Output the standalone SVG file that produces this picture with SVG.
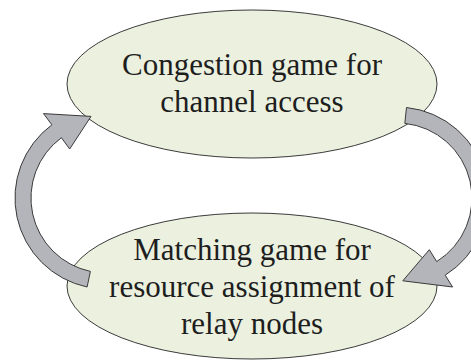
<svg xmlns="http://www.w3.org/2000/svg" width="471" height="360" viewBox="0 0 471 360">
<style>
.node{fill:#EBF1DE;stroke:#3a3a3a;stroke-width:1}
.lbl{font-family:"Liberation Serif","Times New Roman",serif;font-size:31px;fill:#1e1e1e;text-anchor:middle}
.arr{fill:#B4B5BA;stroke:#3a3a3a;stroke-width:1;stroke-linejoin:miter}
</style>
<rect width="471" height="360" fill="#ffffff"/>
<g id="node-congestion">
<ellipse class="node" cx="252" cy="84" rx="185" ry="74"/>
<text class="lbl" x="252" y="75">Congestion game for</text>
<text class="lbl" x="252" y="112">channel access</text>
</g>
<g id="node-matching">
<ellipse class="node" cx="252" cy="286" rx="185" ry="73"/>
<text class="lbl" x="252" y="260">Matching game for</text>
<text class="lbl" x="252" y="297">resource assignment of</text>
<text class="lbl" x="252" y="334">relay nodes</text>
</g>
<g id="connectors">
<path class="arr" d="M87.1,287 A91,91 0 0 1 51.9,124.8 L43.5,113.6 L91,116.4 L69.7,149 L61.4,137.7 A75,75 0 0 0 90.4,271.4 Z"/>
<path class="arr" d="M406.5,107.5 A91,91 0 0 1 445.2,275.2 L452.6,287 L402.8,280.8 L429.3,249.7 L436.7,261.6 A75,75 0 0 0 404.8,123.4 Z"/>
</g>
</svg>
